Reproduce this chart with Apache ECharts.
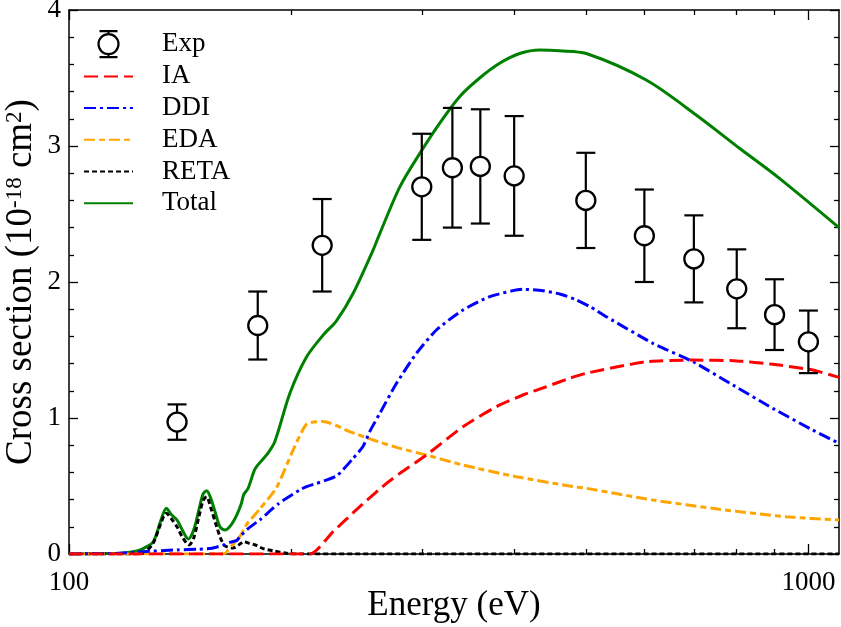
<!DOCTYPE html>
<html>
<head>
<meta charset="utf-8">
<script src="https://cdn.jsdelivr.net/npm/echarts@6/dist/echarts.min.js"></script>
<style>
  html, body { margin: 0; padding: 0; background: #fff; }
  #chart { width: 841px; height: 627px; }
</style>
</head>
<body>
<div id="chart"></div>
<script>
// Electron-impact cross sections: measured points and model components
const FONT = 'Liberation Serif';

// Experimental data: energy (eV), cross section (1e-18 cm^2), error
const expEnergy = [140, 180, 220, 300, 330, 360, 400, 500, 600, 700, 800, 900, 1000];
const expValue  = [0.97, 1.68, 2.27, 2.70, 2.84, 2.85, 2.78, 2.60, 2.34, 2.17, 1.95, 1.76, 1.56];
const expError  = [0.13, 0.25, 0.34, 0.39, 0.44, 0.42, 0.44, 0.35, 0.34, 0.32, 0.29, 0.26, 0.23];

// Model curves as [energy, cross section]
const iaCurve = [[100,0],[211.7,0],[227.6,0.164],[247.3,0.348],[268.8,0.52],[280.2,0.593],[304.4,0.728],
  [341,0.936],[378.4,1.083],[411.1,1.169],[442.1,1.23],[475.3,1.292],[500.8,1.329],[603.5,1.414],
  [697.9,1.426],[800,1.42],[895,1.395],[1013,1.353],[1100,1.299]];

const ddiCurve = [[100,0],[115,0.004],[126,0.017],[140,0.03],[150,0.035],[155,0.04],[158,0.05],
  [161.8,0.066],[165,0.085],[168.7,0.10],[170.2,0.127],[175,0.19],[181.1,0.25],[192,0.37],[205,0.47],
  [209.6,0.495],[230,0.574],[242.3,0.704],[249.8,0.79],[255.1,0.90],[263.3,1.035],
  [277.3,1.255],[295.1,1.476],[314,1.647],[341,1.794],[370.7,1.892],[411.1,1.946],
  [437.5,1.936],[462,1.91],[485,1.87],[508,1.815],[532.9,1.745],[616.2,1.549],[697.9,1.414],[790.3,1.243],
  [895,1.071],[1013,0.912],[1100,0.814]];

const edaCurve = [[100,0],[161.8,0],[166,0.06],[170.2,0.127],[174,0.22],[181.1,0.33],[190.8,0.487],
  [201,0.765],[209.6,0.955],[220.7,0.975],[239.7,0.90],[257.8,0.838],[280.2,0.777],[304.4,0.728],
  [341,0.654],[402.7,0.568],[475.3,0.50],[500.8,0.483],[616.2,0.397],[758.2,0.329],[933,0.274],[1100,0.25]];

const retaCurve = [[100,0],[124,0],[127,0.02],[130,0.08],[133,0.22],[135.4,0.30],[137.5,0.26],[140,0.2],
  [142.5,0.12],[145.3,0.066],[147.5,0.12],[149.8,0.27],[151.8,0.39],[153.5,0.42],[155.5,0.34],[158.4,0.2],
  [160.5,0.11],[162.5,0.06],[166.6,0.044],[170,0.07],[172.4,0.09],[175,0.08],[178.7,0.066],[183,0.04],
  [188.8,0.024],[196.9,0.005],[205,0],[1100,0]];

const totalCurve = [[100,0],[112,0.003],[118.7,0.008],[123,0.02],[126,0.04],[130,0.09],[133,0.24],
  [135.4,0.336],[137.5,0.29],[140,0.25],[142.5,0.17],[145,0.11],[147.5,0.18],[149.8,0.32],[151.8,0.44],
  [153.5,0.465],[155.5,0.41],[157.8,0.30],[160,0.2],[162.5,0.176],[165.5,0.21],[168.7,0.29],[171,0.37],
  [172.4,0.44],[174.6,0.48],[178.7,0.63],[185,0.728],[189.8,0.826],[198.9,1.18],[209.6,1.45],[220.7,1.61],
  [230,1.715],[242.3,1.917],[257.8,2.235],[263.3,2.358],[280.2,2.70],[298.2,2.946],[317.1,3.167],
  [337.5,3.363],[359.3,3.50],[382.3,3.608],[406.9,3.68],[433.1,3.706],[460.9,3.70],[500.8,3.68],
  [603.5,3.485],[705.1,3.228],[806.9,2.983],[913.7,2.762],[1100,2.40]];

// Axis ticks
const xMajorTicks = [100, 1000];
const xMinorTicks = [200, 300, 400, 500, 600, 700, 800, 900];

const expData = expEnergy.map((e, i) => [e, expValue[i], expValue[i] - expError[i], expValue[i] + expError[i]]);

function renderExp(params, api) {
  const c = api.coord([api.value(0), api.value(1)]);
  const lo = api.coord([api.value(0), api.value(2)]);
  const hi = api.coord([api.value(0), api.value(3)]);
  const r = 9.5, cap = 9.5;
  const s = { stroke: '#000', lineWidth: 2.2 };
  return {
    type: 'group',
    children: [
      { type: 'line', shape: { x1: c[0], y1: hi[1], x2: c[0], y2: c[1] - r }, style: s },
      { type: 'line', shape: { x1: c[0], y1: c[1] + r, x2: c[0], y2: lo[1] }, style: s },
      { type: 'line', shape: { x1: c[0] - cap, y1: hi[1], x2: c[0] + cap, y2: hi[1] }, style: s },
      { type: 'line', shape: { x1: c[0] - cap, y1: lo[1], x2: c[0] + cap, y2: lo[1] }, style: s },
      { type: 'circle', shape: { cx: c[0], cy: c[1], r: r }, style: { fill: '#fff', stroke: '#000', lineWidth: 2.3 } }
    ]
  };
}

function lineSeries(name, data, color, type, smooth) {
  return {
    name, type: 'line', data, symbol: 'none', smooth: smooth,
    xAxisIndex: 0, yAxisIndex: 0,
    lineStyle: { color, width: 3, type },
    itemStyle: { color },
    emphasis: { disabled: true },
    clip: true
  };
}

const axisTextBase = { color: '#000', fontFamily: FONT };

function xAxisDef(position, ticks, len, showLine, withLabels) {
  return {
    type: 'log', logBase: 10, min: 100, max: 1100, position,
    axisLine: { show: showLine, lineStyle: { color: '#000', width: 1.5 } },
    axisTick: { show: true, inside: true, length: len, customValues: ticks, lineStyle: { color: '#000', width: 1.3 } },
    axisLabel: withLabels ? {
      show: true, customValues: ticks, margin: 15, fontSize: 27, ...axisTextBase,
      formatter: v => String(Math.round(v))
    } : { show: false },
    splitLine: { show: false }
  };
}

function yAxisDef(position, withLabels) {
  return {
    type: 'value', min: 0, max: 4, interval: 1, position,
    axisLine: { show: true, lineStyle: { color: '#000', width: 1.5 } },
    axisTick: { show: true, inside: true, length: 9, lineStyle: { color: '#000', width: 1.3 } },
    minorTick: { show: true, splitNumber: 5, length: 5, lineStyle: { color: '#000', width: 1.3 } },
    axisLabel: withLabels ? { show: true, margin: 8, fontSize: 27, ...axisTextBase } : { show: false },
    splitLine: { show: false },
    minorSplitLine: { show: false }
  };
}

const chart = echarts.init(document.getElementById('chart'), null, { renderer: 'canvas' });

const xBottom = xAxisDef('bottom', xMajorTicks, 10, true, true);
xBottom.name = 'Energy (eV)';
xBottom.nameLocation = 'middle';
xBottom.nameGap = 34;
xBottom.nameMoveOverlap = false;
xBottom.nameTextStyle = { fontSize: 35, ...axisTextBase };

const yLeft = yAxisDef('left', true);
yLeft.name = 'Cross section (10{s|-18} cm{s|2})';
yLeft.nameLocation = 'middle';
yLeft.nameRotate = 90;
yLeft.nameGap = 29;
yLeft.nameMoveOverlap = false;
yLeft.nameTextStyle = {
  fontSize: 37, ...axisTextBase,
  rich: { s: { fontSize: 23, fontFamily: FONT, color: '#000', verticalAlign: 'top' } }
};

const hideMarker = { opacity: 0 };

chart.setOption({
  animation: false,
  backgroundColor: '#fff',
  grid: { left: 69, right: 2, top: 10, bottom: 73, containLabel: false, outerBoundsMode: 'none' },
  xAxis: [
    xBottom,
    xAxisDef('bottom', xMinorTicks, 5, false, false),
    xAxisDef('top', xMajorTicks, 10, true, false),
    xAxisDef('top', xMinorTicks, 5, false, false)
  ],
  yAxis: [yLeft, yAxisDef('right', false)],
  legend: {
    orient: 'vertical', left: 78, top: 25, padding: 5,
    itemWidth: 49, itemHeight: 26, itemGap: 4.7,
    selectedMode: false,
    textStyle: { fontSize: 27, fontFamily: FONT, color: '#000', padding: [0, 0, 0, 24] },
    data: [
      { name: 'Exp', icon: 'path://M2,0L20,0M11,0L11,3M11,23L11,26M2,26L20,26M11,3A10,10,0,1,1,11,23A10,10,0,1,1,11,3Z',
        itemStyle: { color: '#fff', borderColor: '#000', borderWidth: 2.2 } },
      { name: 'IA', itemStyle: hideMarker },
      { name: 'DDI', itemStyle: hideMarker },
      { name: 'EDA', itemStyle: hideMarker },
      { name: 'RETA', itemStyle: hideMarker },
      { name: 'Total', itemStyle: hideMarker }
    ]
  },
  series: [
    lineSeries('Total', totalCurve, '#008000', 'solid', 0.3),
    lineSeries('RETA', retaCurve, '#000000', [5, 3], 0.3),
    lineSeries('EDA', edaCurve, '#ffa500', [11, 4, 6, 4], 0.2),
    lineSeries('DDI', ddiCurve, '#0000ff', [12, 4, 3, 4], 0.2),
    lineSeries('IA', iaCurve, '#ff0000', [14, 6], 0.2),
    {
      name: 'Exp', type: 'custom', data: expData, renderItem: renderExp,
      xAxisIndex: 0, yAxisIndex: 0, z: 5,
      itemStyle: { color: '#fff', borderColor: '#000', borderWidth: 2 },
      encode: { x: 0, y: [1, 2, 3] },
      emphasis: { disabled: true }
    }
  ]
});
</script>
</body>
</html>
